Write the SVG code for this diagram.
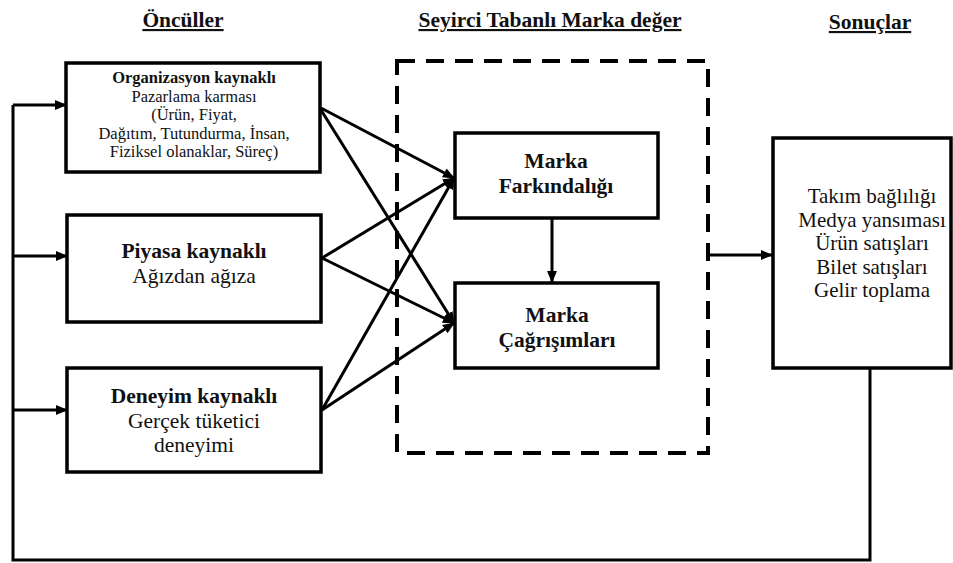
<svg xmlns="http://www.w3.org/2000/svg" width="953" height="563" viewBox="0 0 953 563">
  <style>
    .box { fill: #fff; stroke: #000; stroke-width: 3.5; }
    .dash { fill: none; stroke: #000; stroke-width: 4; stroke-dasharray: 18 11; }
    .line { fill: none; stroke: #000; stroke-width: 3; }
    .arrow { fill: none; stroke: #000; stroke-width: 3; marker-end: url(#head); }
    text { font-family: "Liberation Serif", "Times New Roman", serif; fill: #111; text-anchor: middle; }
    .title { font-size: 21.5px; font-weight: bold; text-decoration: underline; }
    .b { font-weight: bold; }
  </style>
  <defs>
    <marker id="head" viewBox="0 0 12 10" refX="11" refY="5" markerWidth="12" markerHeight="10" markerUnits="userSpaceOnUse" orient="auto">
      <path d="M0,0 L12,5 L0,10 Z" fill="#000"/>
    </marker>
  </defs>

  <!-- column headings -->
  <g id="headings">
    <text class="title" x="183" y="27">Öncüller</text>
    <text class="title" x="550" y="27">Seyirci Tabanlı Marka değer</text>
    <text class="title" x="870" y="29">Sonuçlar</text>
  </g>

  <!-- dashed frame around brand equity -->
  <g id="equity-frame">
    <rect class="dash" x="397" y="61" width="311" height="392"/>
  </g>

  <!-- connectors -->
  <g id="connectors">
    <!-- feedback loop -->
    <polyline class="line" points="870,368 870,560 13,560 13,105"/>
    <line class="arrow" x1="13" y1="105" x2="66" y2="105"/>
    <line class="arrow" x1="13" y1="256" x2="67" y2="256"/>
    <line class="arrow" x1="13" y1="410" x2="67" y2="410"/>
    <!-- sources to brand equity -->
    <line class="arrow" x1="321" y1="108" x2="454" y2="178"/>
    <line class="arrow" x1="321" y1="110" x2="454" y2="323"/>
    <line class="arrow" x1="322" y1="258" x2="454" y2="178"/>
    <line class="arrow" x1="322" y1="258" x2="454" y2="323"/>
    <line class="arrow" x1="322" y1="410" x2="454" y2="178"/>
    <line class="arrow" x1="322" y1="410" x2="454" y2="323"/>
    <!-- awareness to associations -->
    <line class="arrow" x1="552" y1="218" x2="552" y2="282"/>
    <!-- brand equity to outcomes -->
    <line class="arrow" x1="708" y1="255" x2="772" y2="255"/>
  </g>

  <g id="org">
    <rect class="box" x="66" y="63" width="254" height="109"/>
    <text x="194" y="83" font-size="16.5" class="b">Organizasyon kaynaklı</text>
    <text x="194" y="102" font-size="16.5">Pazarlama karması</text>
    <text x="194" y="120" font-size="16.5">(Ürün, Fiyat,</text>
    <text x="194" y="139" font-size="16.5">Dağıtım, Tutundurma, İnsan,</text>
    <text x="194" y="157" font-size="16.5">Fiziksel olanaklar, Süreç)</text>
  </g>

  <g id="piyasa">
    <rect class="box" x="67" y="215" width="254" height="107"/>
    <text x="194" y="258" font-size="21.5" class="b">Piyasa kaynaklı</text>
    <text x="194" y="283" font-size="21.5">Ağızdan ağıza</text>
  </g>

  <g id="deneyim">
    <rect class="box" x="67" y="368" width="254" height="104"/>
    <text x="194" y="403" font-size="21.5" class="b">Deneyim kaynaklı</text>
    <text x="194" y="428" font-size="21.5">Gerçek tüketici</text>
    <text x="194" y="452" font-size="21.5">deneyimi</text>
  </g>

  <g id="farkindalik">
    <rect class="box" x="455" y="133" width="203" height="85"/>
    <text x="556" y="168" font-size="21.5" class="b">Marka</text>
    <text x="556" y="193" font-size="21.5" class="b">Farkındalığı</text>
  </g>

  <g id="cagrisim">
    <rect class="box" x="455" y="283" width="203" height="85"/>
    <text x="557" y="322" font-size="21.5" class="b">Marka</text>
    <text x="557" y="347" font-size="21.5" class="b">Çağrışımları</text>
  </g>

  <g id="sonuclar">
    <rect class="box" x="773" y="138" width="178" height="230"/>
    <text x="872" y="203" font-size="21">Takım bağlılığı</text>
    <text x="872" y="227" font-size="21">Medya yansıması</text>
    <text x="872" y="250" font-size="21">Ürün satışları</text>
    <text x="872" y="274" font-size="21">Bilet satışları</text>
    <text x="872" y="297" font-size="21">Gelir toplama</text>
  </g>
</svg>
